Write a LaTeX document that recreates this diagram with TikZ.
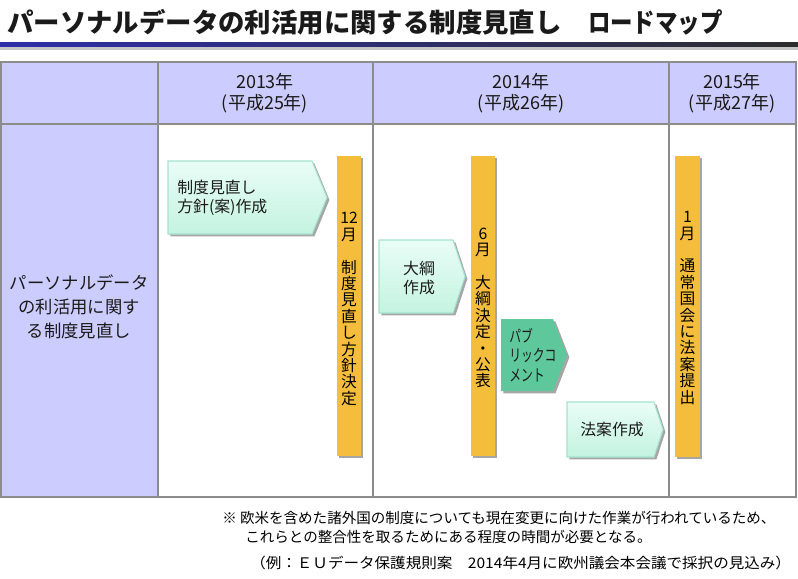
\documentclass[tikz,border=0pt]{standalone}
\usepackage{fontspec}
\usepackage{graphicx}
\setmainfont{Noto Sans CJK JP}
\usetikzlibrary{shadows}
\definecolor{lav}{HTML}{CCCCFF}
\definecolor{gridc}{HTML}{8C8C8C}
\definecolor{barc}{HTML}{F5BD3C}
\definecolor{pubc}{HTML}{5EC79B}
\definecolor{mintT}{HTML}{E9FDF7}
\definecolor{mintB}{HTML}{C4F3E1}
\definecolor{mintE}{HTML}{A6E2CF}
\definecolor{titleL}{HTML}{2E2EAA}
\definecolor{titleR}{HTML}{2E2E2E}
\definecolor{txtc}{HTML}{1A1A1A}
\newcommand{\pentarrow}[6]{%
  \path[#6] (#1,#2) -- (#3,#2) -- (#4,{(#2+#5)/2}) -- (#3,#5) -- (#1,#5) -- cycle;}
\newcommand{\narrowtxt}[2]{\scalebox{#1}[1]{#2}}
\tikzset{
  shad/.style={drop shadow={shadow xshift=1.8pt,shadow yshift=-1.8pt,opacity=0.35,fill=black}},
  mintarrow/.style={shad,top color=mintT,bottom color=mintB,draw=mintE,line width=0.8pt},
  pubarrow/.style={shad,fill=pubc},
  barbox/.style={shad,fill=barc},
  hdr/.style={align=center,inner sep=0pt,text=txtc,font=\fontsize{13.5}{15.8}\selectfont},
  rowtxt/.style={align=center,inner sep=0pt,text=txtc,font=\fontsize{13}{18}\selectfont},
  arrtxt/.style={inner sep=0pt,text=txtc,font=\fontsize{11.9}{14.3}\selectfont},
  bartxt/.style={align=center,inner sep=0pt,text=black,font=\fontsize{11.8}{12.3}\selectfont},
  notetxt/.style={anchor=west,inner sep=0pt,text=black,font=\fontsize{10.9}{12}\selectfont},
  gridline/.style={draw=gridc,line width=1pt}
}
\begin{document}
\begin{tikzpicture}[x=0.75pt,y=-0.75pt]
\useasboundingbox (0,0) rectangle (798,578);
\fill[white] (0,0) rectangle (798,578);
% title
\node[anchor=west,inner sep=0pt,font=\fontsize{19.8}{22}\selectfont\bfseries,text=txtc] (title) at (7,22)
  {パーソナルデータの利活用に関する制度見直し　\narrowtxt{0.85}{ロードマップ}};
\shade[left color=titleL,right color=titleR] (0,42) rectangle (798,47);
\fill[black!22] (0,47) rectangle (798,49.5);
% table
\fill[lav] (1,62) rectangle (796,124);
\fill[lav] (1,124) rectangle (158,497);
\draw[gridline] (1,62) rectangle (796,497);
\draw[gridline] (1,124) -- (796,124);
\draw[gridline] (158,62) -- (158,497);
\draw[gridline] (373,62) -- (373,497);
\draw[gridline] (669,62) -- (669,497);
\node[hdr] (y13) at (265,93) {2013年\\(平成25年)};
\node[hdr] (y14) at (521,93) {2014年\\(平成26年)};
\node[hdr] (y15) at (732,93) {2015年\\(平成27年)};
\node[rowtxt] (row) at (79,307) {パーソナルデータ\\の利活用に関す\\る制度見直し};
% arrows
\pentarrow{168}{161}{312}{327}{234}{mintarrow}
\pentarrow{379}{240}{453}{465}{313}{mintarrow}
\pentarrow{501}{319}{553}{567}{391}{pubarrow}
\pentarrow{567}{402}{654}{663}{457}{mintarrow}
\node[arrtxt,anchor=west,align=left] (a1) at (177,198) {制度見直し\\方針(案)作成};
\node[arrtxt,align=center] (a2) at (419,278) {大綱\\作成};
\node[arrtxt,anchor=west,align=left,font=\fontsize{12.3}{14.6}\selectfont] (a3) at (509,355)
  {\narrowtxt{0.72}{パブ}\\\narrowtxt{0.72}{リックコ}\\\narrowtxt{0.72}{メント}};
\node[arrtxt,align=center] (a4) at (612,430) {法案作成};
% bars
\path[barbox] (337,156) rectangle (361,456);
\path[barbox] (471,156) rectangle (495,456);
\path[barbox] (675,156) rectangle (700,457);
\node[bartxt] (b1) at (349,309) {12\\月\\\mbox{}\\制\\度\\見\\直\\し\\方\\針\\決\\定};
\node[bartxt] (b2) at (483,308) {6\\月\\\mbox{}\\大\\綱\\決\\定\\・\\公\\表};
\node[bartxt] (b3) at (687.5,308) {1\\月\\\mbox{}\\通\\常\\国\\会\\に\\法\\案\\提\\出};
% notes
\node[notetxt] (n1) at (222,518) {※ 欧米を含めた諸外国の制度についても現在変更に向けた作業が行われているため、};
\node[notetxt] (n2) at (245,537) {これらとの整合性を取るためにある程度の時間が必要となる。};
\node[notetxt] (n3) at (250,563) {\narrowtxt{1.07}{（例：ＥＵデータ保護規則案　2014年4月に欧州議会本会議で採択の見込み）}};
\end{tikzpicture}
\end{document}
